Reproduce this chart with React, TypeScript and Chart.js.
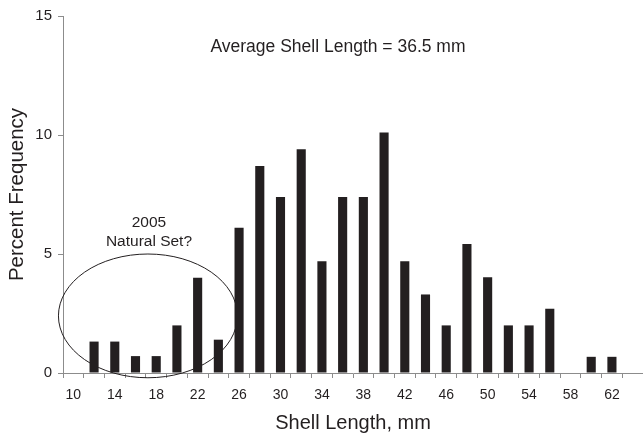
import React, { useEffect, useRef } from "react";
import { Chart, registerables } from "chart.js";

Chart.register(...registerables);

const CATEGORIES = ["10", "12", "14", "16", "18", "20", "22", "24", "26", "28", "30", "32", "34", "36", "38", "40", "42", "44", "46", "48", "50", "52", "54", "56", "58", "60", "62", "64"];
const PERCENT = [0, 1.32, 1.32, 0.71, 0.71, 2.0, 4.0, 1.4, 6.1, 8.7, 7.4, 9.4, 4.7, 7.4, 7.4, 10.1, 4.7, 3.3, 2.0, 5.42, 4.02, 2.0, 2.0, 2.7, 0, 0.68, 0.68, 0];
const X_TICK_LABELS = ["10", "14", "18", "22", "26", "30", "34", "38", "42", "46", "50", "54", "58", "62"];
const Y_TICKS = [0, 5, 10, 15];

const AVG_TEXT = "Average Shell Length = 36.5 mm";
const NOTE_LINES = ["2005", "Natural Set?"];

const FONT = "'Liberation Sans', Arial, Helvetica, sans-serif";
const INK = "#231f20";
const AXIS = "#8c8c8c";

const mmToIndex = (mm: number) => (mm - 10) / 2;

const annotationPlugin = {
  id: "annotations",
  afterDatasetsDraw(chart: any) {
    const { ctx, scales } = chart;
    const x = scales.x;
    const y = scales.y;
    ctx.save();
    // ellipse around the 2005 natural set
    const cx = x.getPixelForValue(mmToIndex(17.2));
    const cy = y.getPixelForValue(2.4);
    const rx = x.getPixelForValue(mmToIndex(17.2 + 8.64)) - cx;
    const ry = cy - y.getPixelForValue(2.4 + 2.6);
    ctx.beginPath();
    ctx.ellipse(cx, cy, rx, ry, 0, 0, Math.PI * 2);
    ctx.strokeStyle = INK;
    ctx.lineWidth = 1;
    ctx.stroke();

    ctx.fillStyle = INK;
    ctx.textAlign = "center";
    ctx.textBaseline = "middle";
    ctx.font = `15.5px ${FONT}`;
    const nx = x.getPixelForValue(mmToIndex(17.3));
    ctx.fillText(NOTE_LINES[0], nx, y.getPixelForValue(6.3));
    ctx.fillText(NOTE_LINES[1], nx, y.getPixelForValue(5.5));

    ctx.font = `17.5px ${FONT}`;
    ctx.fillText(AVG_TEXT, x.getPixelForValue(mmToIndex(35.55)), y.getPixelForValue(13.7));
    ctx.restore();
  },
};

export default function App() {
  const ref = useRef<HTMLCanvasElement | null>(null);
  useEffect(() => {
    if (!ref.current) return;
    const chart = new Chart(ref.current, {
      type: "bar",
      data: {
        labels: CATEGORIES,
        datasets: [
          {
            data: PERCENT,
            backgroundColor: INK,
            borderWidth: 0,
            categoryPercentage: 1,
            barPercentage: 0.44,
          },
        ],
      },
      options: {
        animation: false,
        responsive: true,
        maintainAspectRatio: false,
        layout: { padding: { top: 16, right: 0, bottom: 0, left: 0 } },
        plugins: { legend: { display: false }, tooltip: { enabled: false } },
        scales: {
          x: {
            offset: true,
            grid: {
              offset: true,
              drawOnChartArea: false,
              drawTicks: true,
              tickLength: 5,
              color: AXIS,
            },
            border: { display: true, color: AXIS, width: 1 },
            ticks: {
              autoSkip: false,
              maxRotation: 0,
              minRotation: 0,
              padding: 9,
              color: INK,
              font: { family: FONT, size: 14 },
              callback: (_v: any, i: number) =>
                X_TICK_LABELS.includes(CATEGORIES[i]) ? CATEGORIES[i] : "",
            },
            title: {
              display: true,
              text: "Shell Length, mm",
              color: INK,
              font: { family: FONT, size: 20 },
              padding: { top: 0, bottom: -1 },
            },
            afterFit: (s: any) => {
              s.height = 61;
            },
          },
          y: {
            min: 0,
            max: 15,
            afterBuildTicks: (s: any) => {
              s.ticks = Y_TICKS.map((v) => ({ value: v }));
            },
            grid: {
              drawOnChartArea: false,
              drawTicks: true,
              tickLength: 5,
              color: AXIS,
            },
            border: { display: true, color: AXIS, width: 1 },
            ticks: {
              padding: 6,
              color: INK,
              font: { family: FONT, size: 15 },
            },
            title: {
              display: true,
              text: "Percent Frequency",
              color: INK,
              font: { family: FONT, size: 20.5 },
              padding: { top: 5, bottom: 0 },
            },
            afterFit: (s: any) => {
              s.width = 63;
            },
          },
        },
      },
      plugins: [annotationPlugin],
    });
    return () => chart.destroy();
  }, []);
  return (
    <div style={{ position: "absolute", left: 0, top: 0, width: 643, height: 434, background: "#fff" }}>
      <canvas ref={ref} />
    </div>
  );
}
